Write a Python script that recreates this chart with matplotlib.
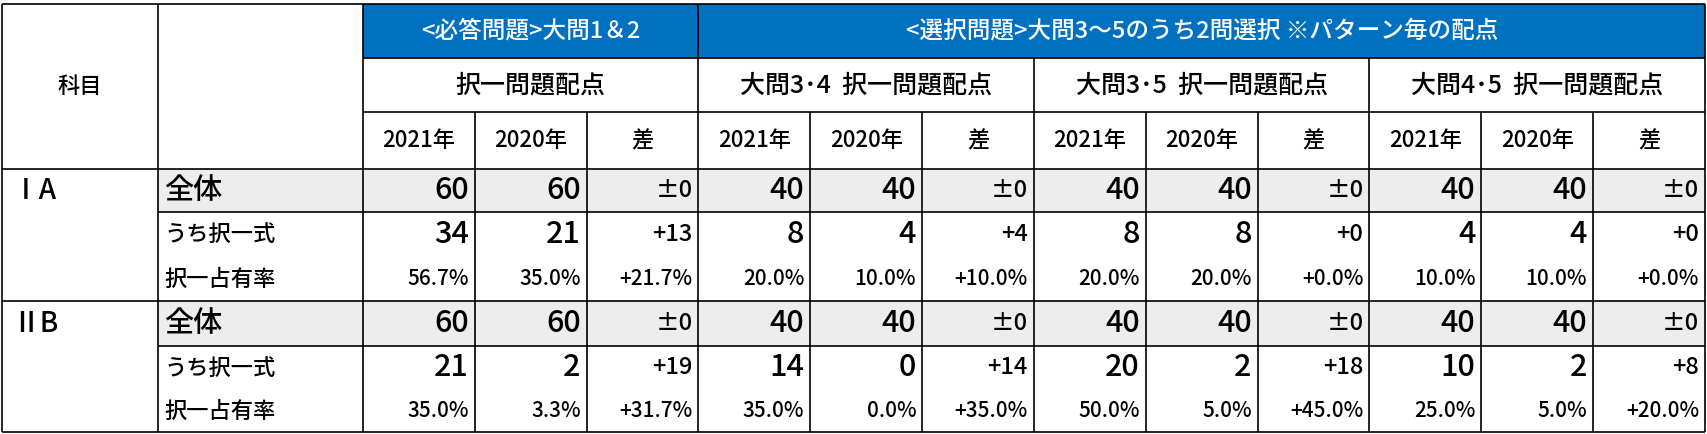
import matplotlib.pyplot as plt
from matplotlib.patches import Rectangle

FONT = "Noto Sans CJK JP"
BLUE = "#0070C0"
GRAY = "#EDEDED"

group_titles = ["<必答問題>大問1＆2", "<選択問題>大問3～5のうち2問選択 ※パターン毎の配点"]
sub_titles = ["択一問題配点", "大問3･4  択一問題配点", "大問3･5  択一問題配点", "大問4･5  択一問題配点"]
year_labels = ["2021年", "2020年", "差"]
subjects = ["ⅠA", "ⅡB"]
row_labels = ["全体", "うち択一式", "択一占有率"]

# per subject: [全体 row, 択一式 row, 占有率 row], 12 columns each
ia_total = ["60", "60", "±0", "40", "40", "±0", "40", "40", "±0", "40", "40", "±0"]
ia_choice = ["34", "21", "+13", "8", "4", "+4", "8", "8", "+0", "4", "4", "+0"]
ia_share = ["56.7%", "35.0%", "+21.7%", "20.0%", "10.0%", "+10.0%", "20.0%", "20.0%", "+0.0%",
            "10.0%", "10.0%", "+0.0%"]
iib_total = ["60", "60", "±0", "40", "40", "±0", "40", "40", "±0", "40", "40", "±0"]
iib_choice = ["21", "2", "+19", "14", "0", "+14", "20", "2", "+18", "10", "2", "+8"]
iib_share = ["35.0%", "3.3%", "+31.7%", "35.0%", "0.0%", "+35.0%", "50.0%", "5.0%", "+45.0%",
             "25.0%", "5.0%", "+20.0%"]
body = [[ia_total, ia_choice, ia_share], [iib_total, iib_choice, iib_share]]

# layout in pixels
W, H = 1708, 434
x0, x1, xd, xr = 2, 158, 363, 1705
cw = (xr - xd) / 12
ys = [4, 58, 112, 169]
row_tops = [[169, 212, 257, 301], [301, 346, 390, 432]]

fig = plt.figure(figsize=(W / 100, H / 100), dpi=100)
ax = fig.add_axes([0, 0, 1, 1])
ax.set_xlim(0, W)
ax.set_ylim(H, 0)
ax.axis("off")


def line(xa, ya, xb, yb, lw=1.2):
    ax.plot([xa, xb], [ya, yb], color="black", lw=lw, solid_capstyle="butt")


def txt(x, y, s, size, ha="center", color="black", weight="medium"):
    ax.text(x, y, s, fontsize=size, ha=ha, va="center", color=color,
            fontfamily=FONT, fontweight=weight)


# blue header
ax.add_patch(Rectangle((xd, ys[0]), xr - xd, ys[1] - ys[0], color=BLUE, lw=0))
txt(xd + 1.5 * cw, (ys[0] + ys[1]) / 2, group_titles[0], 17, color="white")
txt(xd + 7.5 * cw, (ys[0] + ys[1]) / 2, group_titles[1], 17, color="white")
line(xd + 3 * cw, ys[0], xd + 3 * cw, ys[1])

for g, t in enumerate(sub_titles):
    txt(xd + (g * 3 + 1.5) * cw, (ys[1] + ys[2]) / 2, t, 18)
    for k, lab in enumerate(year_labels):
        txt(xd + (g * 3 + k + 0.5) * cw, (ys[2] + ys[3]) / 2, lab, 16)
txt((x0 + x1) / 2, (ys[0] + ys[3]) / 2, "科目", 16)

for s, subj in enumerate(subjects):
    tops = row_tops[s]
    ax.add_patch(Rectangle((x1, tops[0]), xr - x1, tops[1] - tops[0], color=GRAY, lw=0))
    txt(x0 + 10, (tops[0] + tops[1]) / 2, subj, 20, ha="left")
    for r, lab in enumerate(row_labels):
        ym = (tops[r] + tops[r + 1]) / 2
        txt(x1 + 6, ym, lab, 21 if r == 0 else 16, ha="left")
        size = 15 if r == 2 else 22
        for c, v in enumerate(body[s][r]):
            vs = 17 if c % 3 == 2 and r < 2 else size
            txt(xd + (c + 1) * cw - 6, ym, v, vs, ha="right")
    line(x1, tops[1], xr, tops[1])
    line(x0, tops[3], xr, tops[3])

# grid lines
line(x0, ys[0], xr, ys[0])
line(xd, ys[1], xr, ys[1])
line(xd, ys[2], xr, ys[2])
line(x0, ys[3], xr, ys[3])
line(x0, ys[0], x0, 432)
line(x1, ys[0], x1, 432)
line(xr, ys[0], xr, 432)
for c in range(12):
    xx = xd + c * cw
    top = ys[1] if c % 3 == 0 else ys[2]
    if c == 0:
        top = ys[0]
    line(xx, top, xx, 432)

fig.savefig("out.png", dpi=100)
